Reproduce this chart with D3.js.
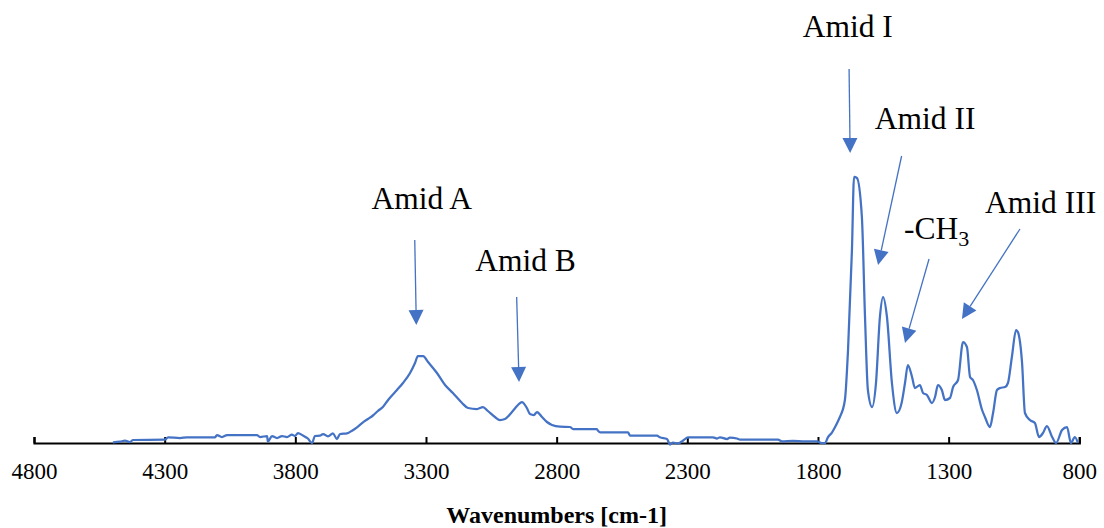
<!DOCTYPE html>
<html>
<head>
<meta charset="utf-8">
<script src="https://cdn.jsdelivr.net/npm/d3@7"></script>
<style>
  html, body { margin: 0; padding: 0; background: #ffffff; }
  svg { display: block; }
  svg text { font-family: "Liberation Serif", "Times New Roman", Times, serif; fill: #000; }
</style>
</head>
<body>
<svg id="chart" width="1104" height="528"></svg>
<script>
// FTIR spectrum: wavenumber (cm-1) and absorbance (a.u.)
const wavenumber = [4498,4471,4452,4433,4421,4299,4287,4241,4215,4107,4100,4081,4061,3947,3935,3908,3905,3889,3870,3851,3832,3813,3801,3790,3771,3752,3736,3725,3706,3694,3675,3656,3641,3629,3602,3583,3564,3541,3522,3503,3484,3465,3445,3411,3388,3361,3342,3331,3311,3292,3258,3227,3197,3162,3139,3105,3082,3063,3036,3017,2998,2971,2948,2933,2914,2902,2887,2875,2856,2837,2818,2787,2749,2737,2646,2642,2634,2527,2519,2416,2405,2378,2366,2355,2336,2317,2297,2202,2186,2175,2148,2137,2110,2098,1953,1938,1896,1850,1804,1785,1773,1762,1746,1735,1723,1716,1697,1685,1670,1662,1651,1632,1620,1609,1593,1578,1563,1551,1536,1517,1498,1480,1467,1456,1440,1429,1410,1398,1383,1364,1352,1341,1326,1314,1295,1283,1264,1245,1230,1218,1207,1192,1172,1161,1142,1130,1115,1103,1084,1073,1058,1042,1035,1019,1008,989,970,954,939,924,904,889,866,847,832,817,805];
const absorbance = [0.0007,0.0013,0.0023,0.0010,0.0030,0.0033,0.0057,0.0050,0.0057,0.0057,0.0080,0.0060,0.0080,0.0080,0.0060,0.0070,0.0013,0.0070,0.0050,0.0070,0.0060,0.0083,0.0070,0.0100,0.0075,0.0045,0.0000,0.0070,0.0073,0.0090,0.0067,0.0097,0.0040,0.0090,0.0097,0.0123,0.0157,0.0207,0.0240,0.0275,0.0320,0.0360,0.0430,0.0530,0.0600,0.0700,0.0800,0.0870,0.0870,0.0810,0.0700,0.0580,0.0500,0.0400,0.0350,0.0340,0.0360,0.0320,0.0260,0.0230,0.0240,0.0310,0.0380,0.0410,0.0350,0.0290,0.0280,0.0310,0.0260,0.0210,0.0180,0.0163,0.0160,0.0140,0.0140,0.0123,0.0107,0.0107,0.0073,0.0073,0.0057,0.0040,-0.0015,0.0005,-0.0005,0.0023,0.0057,0.0057,0.0045,0.0057,0.0040,0.0055,0.0045,0.0033,0.0033,0.0017,0.0022,0.0017,0.0017,0.0000,0.0000,0.0057,0.0107,0.0157,0.0220,0.0260,0.0430,0.0930,0.1930,0.2660,0.2650,0.2260,0.1260,0.0530,0.0360,0.0600,0.1260,0.1460,0.1260,0.0600,0.0300,0.0400,0.0600,0.0780,0.0660,0.0550,0.0580,0.0500,0.0480,0.0400,0.0460,0.0580,0.0530,0.0430,0.0450,0.0560,0.0630,0.1010,0.0960,0.0660,0.0630,0.0530,0.0330,0.0260,0.0160,0.0300,0.0530,0.0550,0.0560,0.0600,0.0860,0.1130,0.1110,0.0800,0.0300,0.0230,0.0200,0.0060,0.0100,0.0170,0.0060,0.0000,0.0130,0.0160,0.0000,0.0060,0.0000];

// Axis ticks and title
const tickValues = [4800, 4300, 3800, 3300, 2800, 2300, 1800, 1300, 800];
const axisTitle = "Wavenumbers [cm-1]";

// Band annotations: label, label anchor, arrow tail and arrow tip (wavenumber, absorbance)
const bandLabels  = ["Amid A", "Amid B", "Amid I", "Amid II", "-CH", "Amid III"];
const bandSubs    = ["", "", "", "", "3", ""];
const labelWn     = [3316, 2919, 1686, 1390, 1471, 948];
const labelAbs    = [0.234, 0.172, 0.406, 0.314, 0.204, 0.230];
const tailWn      = [3343, 2953, 1681, 1480, 1375, 1027];
const tailAbs     = [0.203, 0.146, 0.374, 0.287, 0.184, 0.214];
const tipWn       = [3337, 2944, 1677, 1570, 1467, 1249];
const tipAbs      = [0.118, 0.061, 0.290, 0.178, 0.100, 0.124];

const blue = "#4472C4";
const serif = '"Liberation Serif", "Times New Roman", Times, serif';
const svg = d3.select("#chart");

const x = d3.scaleLinear().domain([4800, 800]).range([34, 1079.3]);
const y = d3.scaleLinear().domain([0, 0.4]).range([443, 43]);

// x axis with ticks pointing up into the plot
const axisG = svg.append("g")
  .attr("transform", `translate(0,${y(0)})`)
  .call(d3.axisBottom(x).tickValues(tickValues).tickSize(-6).tickSizeOuter(-6).tickFormat(d3.format("d")));
axisG.attr("font-family", serif).attr("font-size", 23);
axisG.select(".domain").attr("stroke", "#000").attr("stroke-width", 2.2);
axisG.selectAll(".tick line").attr("stroke", "#000").attr("stroke-width", 2);
axisG.selectAll(".tick text")
  .attr("y", 35.5).attr("dy", null)
  .attr("font-family", serif)
  .attr("font-size", 23)
  .attr("fill", "#000");

svg.append("text")
  .attr("x", x(2800)).attr("y", 523)
  .attr("text-anchor", "middle")
  .attr("font-family", serif)
  .style("font-size", "24px").style("font-weight", "bold")
  .text(axisTitle);

// spectrum
const pts = wavenumber.map((w, i) => [w, absorbance[i]]);
const line = d3.line().x(d => x(d[0])).y(d => y(d[1])).curve(d3.curveMonotoneX);
svg.append("path")
  .datum(pts)
  .attr("d", line)
  .attr("fill", "none")
  .attr("stroke", blue)
  .attr("stroke-width", 2.25)
  .attr("stroke-linejoin", "round");

// annotations
const annG = svg.append("g");
bandLabels.forEach((lab, i) => {
  const x0 = x(tailWn[i]), y0 = y(tailAbs[i]);
  const x1 = x(tipWn[i]),  y1 = y(tipAbs[i]);
  const dx = x1 - x0, dy = y1 - y0, len = Math.hypot(dx, dy);
  const ux = dx / len, uy = dy / len;
  const headLen = 15, headHalf = 7.5;
  const bx = x1 - ux * headLen, by = y1 - uy * headLen;
  annG.append("line")
    .attr("x1", x0).attr("y1", y0).attr("x2", bx).attr("y2", by)
    .attr("stroke", blue).attr("stroke-width", 1.3);
  annG.append("path")
    .attr("d", `M${x1},${y1}L${bx - uy * headHalf},${by + ux * headHalf}L${bx + uy * headHalf},${by - ux * headHalf}Z`)
    .attr("fill", blue);

  const t = annG.append("text")
    .attr("x", x(labelWn[i])).attr("y", y(labelAbs[i]))
    .attr("text-anchor", bandSubs[i] ? "start" : "middle")
    .attr("font-family", serif)
    .style("font-size", "31.5px")
    .text(lab);
  if (bandSubs[i]) {
    t.append("tspan").attr("dy", 7).style("font-size", "22px").text(bandSubs[i]);
  }
});
</script>
</body>
</html>
